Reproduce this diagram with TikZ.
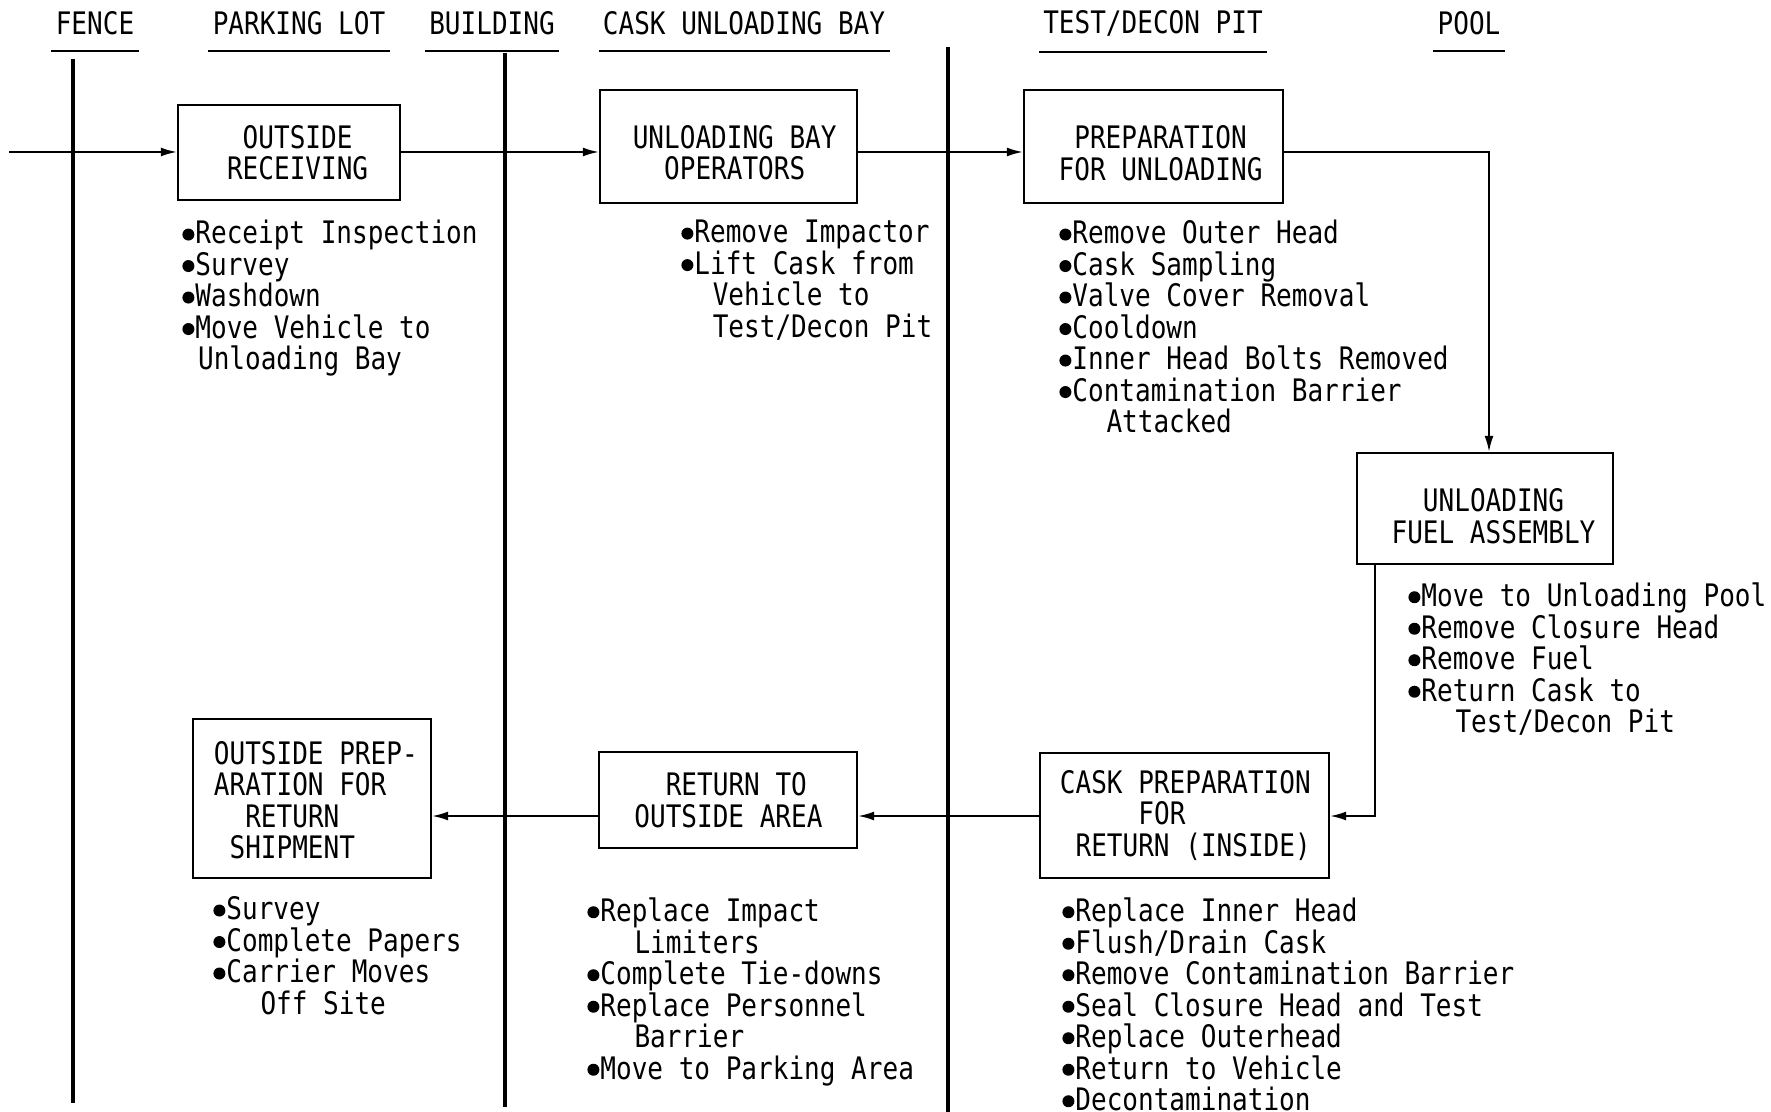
\documentclass[tikz,border=0pt]{standalone}
\usepackage{fontspec}
\newfontfamily\mono[FakeStretch=0.84]{DejaVu Sans Mono}
\usetikzlibrary{arrows.meta}
\newcommand{\bl}{\raisebox{0.2ex}{\tikz\fill (0,0) circle (3pt);}\hspace{0.5pt}}
\newcommand{\ind}[1]{\hspace*{#1\dimexpr 7.85pt\relax}}
\tikzset{
  lane/.style={line width=1.6pt},
  boxnode/.style={draw, line width=1.2pt, inner sep=0pt},
  txt/.style={font=\mono\fontsize{15.5}{15.75}\selectfont, inner sep=0pt},
  btxt/.style={txt, align=center},
  ltxt/.style={txt, align=left, anchor=north west},
  hdr/.style={txt, anchor=center},
  conn/.style={line width=0.9pt, -{Latex[length=8pt,width=4.5pt]}},
  uline/.style={line width=1pt}
}
\begin{document}
\begin{tikzpicture}[x=0.5pt,y=-0.5pt]
\useasboundingbox (0,0) rectangle (1771,1112);
% headers
\node[hdr] (h1) at (95,23) {FENCE};
\node[hdr] (h2) at (299,23) {PARKING LOT};
\node[hdr] (h3) at (492,23) {BUILDING};
\node[hdr] (h4) at (744,23) {CASK UNLOADING BAY};
\node[hdr] (h5) at (1153,23) {TEST/DECON PIT};
\node[hdr] (h6) at (1469,23) {POOL};
\foreach \h in {h1,h2,h3,h4,h5,h6}
  \draw[uline] ([yshift=-8pt,xshift=-2pt]\h.south west) -- ([yshift=-8pt,xshift=2pt]\h.south east);
% lane lines
\coordinate (f1) at (73,59);   \coordinate (f2) at (73,1103);
\coordinate (g1) at (505,53);  \coordinate (g2) at (505,1107);
\coordinate (k1) at (948,47);  \coordinate (k2) at (948,1112);
\draw[lane] (f1) -- (f2);
\draw[lane] (g1) -- (g2);
\draw[lane] (k1) -- (k2);
% boxes
\node[boxnode, minimum width=111pt, minimum height=47.5pt] (b1) at (289,152.5) {};
\node[boxnode, minimum width=128.5pt, minimum height=56.5pt] (b2) at (728.5,146.5) {};
\node[boxnode, minimum width=129.5pt, minimum height=56.5pt] (b3) at (1153.5,146.5) {};
\node[boxnode, minimum width=128pt, minimum height=55.5pt] (b4) at (1485,508.5) {};
\node[boxnode, minimum width=144.5pt, minimum height=62.5pt] (b5) at (1184.5,815.5) {};
\node[boxnode, minimum width=129pt, minimum height=48pt] (b6) at (728,800) {};
\node[boxnode, minimum width=119pt, minimum height=79.5pt] (b7) at (312,798.5) {};
% box texts
\node[btxt] (t1) at (297.6,152.5) {OUTSIDE\\RECEIVING};
\node[btxt] (t2) at (734.7,152.5) {UNLOADING BAY\\OPERATORS};
\node[btxt] (t3) at (1160.6,153) {PREPARATION\\FOR UNLOADING};
\node[btxt] (t4) at (1493.5,516) {UNLOADING\\FUEL ASSEMBLY};
\node[txt, align=left, anchor=west] (t5) at (1059.5,815.5) {CASK PREPARATION\\\ind{5}FOR\\\ind{1}RETURN (INSIDE)};
\node[txt, align=left, anchor=west] (t6) at (634,800) {\ind{2}RETURN TO\\OUTSIDE AREA};
\node[txt, align=left, anchor=west] (t7) at (213.5,800) {OUTSIDE PREP-\\ARATION FOR\\\ind{2}RETURN\\\ind{1}SHIPMENT};
% lists
\node[ltxt] (l1) at (182,220) {\bl Receipt Inspection\\\bl Survey\\\bl Washdown\\\bl Move Vehicle to\\\ind{1}Unloading Bay};
\node[ltxt] (l2) at (681,220) {\bl Remove Impactor\\\bl Lift Cask from\\\ind{2}Vehicle to\\\ind{2}Test/Decon Pit};
\node[ltxt] (l3) at (1059,220) {\bl Remove Outer Head\\\bl Cask Sampling\\\bl Valve Cover Removal\\\bl Cooldown\\\bl Inner Head Bolts Removed\\\bl Contamination Barrier\\\ind{3}Attacked};
\node[ltxt] (l4) at (1408,582.5) {\bl Move to Unloading Pool\\\bl Remove Closure Head\\\bl Remove Fuel\\\bl Return Cask to\\\ind{3}Test/Decon Pit};
\node[ltxt] (l5) at (1062,897.5) {\bl Replace Inner Head\\\bl Flush/Drain Cask\\\bl Remove Contamination Barrier\\\bl Seal Closure Head and Test\\\bl Replace Outerhead\\\bl Return to Vehicle\\\bl Decontamination};
\node[ltxt] (l6) at (587,897.5) {\bl Replace Impact\\\ind{3}Limiters\\\bl Complete Tie-downs\\\bl Replace Personnel\\\ind{3}Barrier\\\bl Move to Parking Area};
\node[ltxt] (l7) at (213,896.5) {\bl Survey\\\bl Complete Papers\\\bl Carrier Moves\\\ind{3}Off Site};
% connectors
\coordinate (rowA) at (0,152);
\coordinate (rowB) at (0,816);
\coordinate (in) at (9,152);
\coordinate (c1) at (1489,152);
\coordinate (c2) at (1375,816);
\draw[conn] (in) -- (b1.west |- rowA);
\draw[conn] (b1.east |- rowA) -- (b2.west |- rowA);
\draw[conn] (b2.east |- rowA) -- (b3.west |- rowA);
\draw[conn] (b3.east |- rowA) -- (c1) -- (c1 |- b4.north);
\draw[conn] (c2 |- b4.south) -- (c2) -- (b5.east |- rowB);
\draw[conn] (b5.west |- rowB) -- (b6.east |- rowB);
\draw[conn] (b6.west |- rowB) -- (b7.east |- rowB);
\end{tikzpicture}
\end{document}
